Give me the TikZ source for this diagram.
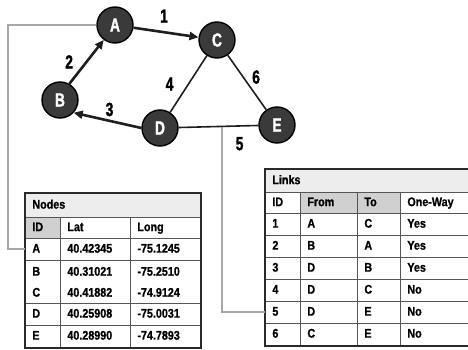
\documentclass[tikz,border=0pt]{standalone}
\usepackage{fontspec}
\setmainfont{Liberation Sans}[FakeStretch=0.86, FakeBold=1]
\newfontfamily\letterfont{Liberation Sans}[FakeStretch=0.72, FakeBold=1.5]
\usetikzlibrary{arrows.meta,calc}

\definecolor{stationfill}{HTML}{3A3A3A}
\definecolor{edgecol}{HTML}{1E1E1E}
\definecolor{wiregray}{HTML}{A8A8A8}
\definecolor{rulegray}{HTML}{555555}
\definecolor{framecol}{HTML}{2A2A2A}
\definecolor{titlegray}{HTML}{EDEDED}
\definecolor{headgray}{HTML}{D0D0D0}

\begin{document}
\begin{tikzpicture}[
        x=1pt, y=-1pt,
        station/.style={circle, draw=black, line width=1.4pt, fill=stationfill, minimum size=36pt, inner sep=0pt, text=white, font=\letterfont\bfseries\fontsize{19}{21}\selectfont},
        oneway/.style={-{Triangle[length=9pt, width=8pt]}, line width=2.6pt, draw=edgecol},
        twoway/.style={line width=1.6pt, draw=edgecol},
        tag/.style={font=\letterfont\bfseries\fontsize{19}{21}\selectfont, inner sep=3.33pt},
        wire/.style={draw=wiregray, line width=2pt},
        cell/.style={draw=rulegray, line width=0.8pt, anchor=north west, inner xsep=7pt, inner ysep=0pt, align=left, text height=9pt, text depth=2.5pt, minimum height=22pt, font=\bfseries\fontsize{12.5}{15}\selectfont},
        idcol/.style={cell, text width=21pt},
        wide/.style={cell, text width=56pt},
        fromcol/.style={cell, text width=43pt},
        tocol/.style={cell, text width=29pt},
        frame/.style={draw=framecol, line width=2.4pt}
    ]
        \clip (0,0) rectangle (468,350);

        % network
        \node[station] (node-a) at (115,25) {A};
        \node[station] (node-b) at (60,100) {B};
        \node[station] (node-c) at (217,40) {C};
        \node[station] (node-d) at (160,128) {D};
        \node[station] (node-e) at (277,125) {E};

        % nodes table
        \node[cell, text width=161pt, minimum height=24pt, fill=titlegray] (nodes-title) at (25,193) {Nodes};
        \node[idcol, minimum height=21pt, fill=headgray] (nodes-id) at (25,217) {ID};
        \node[wide, minimum height=21pt] (nodes-lat) at (60,217) {Lat};
        \node[wide, minimum height=21pt] (nodes-long) at (130,217) {Long};
        \foreach \y/\id/\lat/\lon in {238/A/40.42345/-75.1245, 303/D/40.25908/-75.0031, 325/E/40.28990/-74.7893}{
            \node[idcol] (row-\id) at (25,\y) {\id};
            \node[wide] (lat-\id) at (60,\y) {\lat};
            \node[wide] (long-\id) at (130,\y) {\lon};
        }
        \node[idcol, minimum height=43pt, text height={}, text depth={}] (row-BC) at (25,260) {B\\[6pt]C};
        \node[wide, minimum height=43pt, text height={}, text depth={}] (lat-BC) at (60,260) {40.31021\\[6pt]40.41882};
        \node[wide, minimum height=43pt, text height={}, text depth={}] (long-BC) at (130,260) {-75.2510\\[6pt]-74.9124};
        \draw[frame] (nodes-title.north west) rectangle (long-E.south east);

        % links table
        \node[cell, text width=191pt, minimum height=23pt, fill=titlegray] (links-title) at (265,169) {Links};
        \node[idcol, minimum height=21pt] (links-id) at (265,192) {ID};
        \node[fromcol, minimum height=21pt, fill=headgray] (links-from) at (300,192) {From};
        \node[tocol, minimum height=21pt, fill=headgray] (links-to) at (357,192) {To};
        \node[wide, minimum height=21pt] (links-way) at (400,192) {One-Way};
        \foreach \id/\from/\to/\way in {1/A/C/Yes, 2/B/A/Yes, 3/D/B/Yes, 4/D/C/No, 5/D/E/No, 6/C/E/No}{
            \node[idcol] (link-\id) at (265,191+22*\id) {\id};
            \node[fromcol] (from-\id) at (300,191+22*\id) {\from};
            \node[tocol] (to-\id) at (357,191+22*\id) {\to};
            \node[wide] (way-\id) at (400,191+22*\id) {\way};
        }
        \draw[frame] (links-title.north west) rectangle (way-6.south east);

        % table leaders
        \coordinate (elbow) at (8,25);
        \coordinate (tap) at ($(node-d)!0.53!(node-e)$);
        \draw[wire] (node-a) -- (elbow) |- (row-A.west);
        \draw[wire] (tap) |- (link-5.west);

        % links
        \draw[oneway] (node-a) -- node[tag, pos=0.47, above=5pt] {1} (node-c);
        \draw[oneway] (node-b.60) -- node[tag, left=9pt] {2} (node-a.233);
        \draw[oneway] (node-d.180) -- node[tag, pos=0.47, above=0pt] {3} (node-b.-43);
        \draw[twoway] (node-d) -- node[tag, left=11pt] {4} (node-c);
        \draw[twoway] (node-d) -- node[tag, pos=0.765, below=7pt] {5} (node-e);
        \draw[twoway] (node-c) -- node[tag, pos=0.4, right=5pt] {6} (node-e);
    \end{tikzpicture}
\end{document}
